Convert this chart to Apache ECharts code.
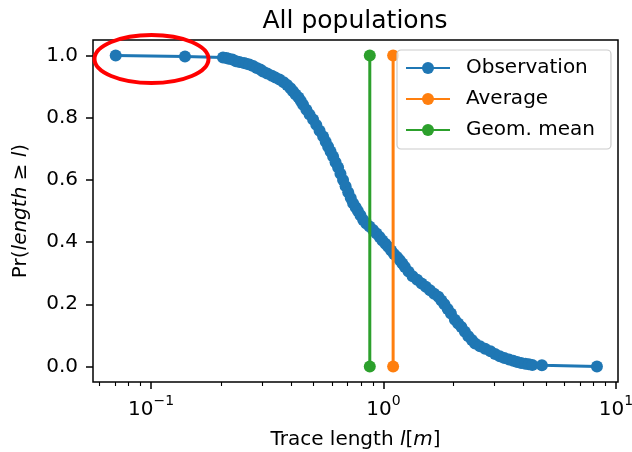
<!DOCTYPE html>
<html><head><meta charset="utf-8">
<script src="https://cdn.jsdelivr.net/npm/echarts@6/dist/echarts.min.js"></script>
<style>html,body{margin:0;padding:0;background:#fff}#c{width:632px;height:452px}</style>
</head><body><div id="c"></div>
<script>
const obsX = [0.0705,0.140,0.204,0.211,0.216,0.224,0.232,0.240,0.251,0.257,0.265,0.275,0.285,0.295,0.303,0.316,0.331,0.343,0.357,0.372,0.385,0.398,0.408,0.419,0.431,0.441,0.451,0.466,0.481,0.498,0.514,0.531,0.550,0.564,0.578,0.592,0.607,0.622,0.638,0.653,0.670,0.687,0.705,0.723,0.740,0.759,0.776,0.796,0.818,0.843,0.871,0.902,0.933,0.962,0.989,1.019,1.047,1.079,1.109,1.143,1.175,1.205,1.236,1.282,1.334,1.396,1.459,1.521,1.585,1.652,1.722,1.774,1.828,1.888,1.950,2.028,2.094,2.163,2.239,2.317,2.399,2.477,2.600,2.735,2.884,3.020,3.162,3.311,3.467,3.614,3.758,3.908,4.074,4.217,4.365,4.80,8.28];
const obsY = [1.000,0.997,0.994,0.992,0.990,0.987,0.982,0.979,0.976,0.974,0.971,0.966,0.960,0.955,0.949,0.942,0.935,0.929,0.923,0.914,0.905,0.895,0.885,0.875,0.865,0.854,0.842,0.826,0.810,0.794,0.777,0.758,0.740,0.723,0.707,0.691,0.675,0.657,0.640,0.620,0.600,0.580,0.560,0.542,0.525,0.512,0.500,0.486,0.471,0.460,0.450,0.439,0.428,0.416,0.405,0.395,0.385,0.373,0.362,0.352,0.342,0.331,0.320,0.305,0.290,0.279,0.267,0.256,0.245,0.234,0.224,0.212,0.200,0.185,0.170,0.150,0.138,0.127,0.112,0.097,0.085,0.074,0.065,0.057,0.049,0.040,0.033,0.027,0.022,0.018,0.014,0.011,0.009,0.007,0.005,0.004,0.000];
const avgX = [1.10, 1.10];
const avgY = [0, 1];
const geoX = [0.873, 0.873];
const geoY = [0, 1];
const seriesNames = ['Observation', 'Average', 'Geom. mean'];
const yTicks = [0, 0.2, 0.4, 0.6, 0.8, 1.0];
const xTicks = [0.1, 1, 10];
const xTickExps = ['−1', '0', '1'];
const xMinorTicks = [0.06,0.07,0.08,0.09,0.2,0.3,0.4,0.5,0.6,0.7,0.8,0.9,2,3,4,5,6,7,8,9];

const FONT = 'DejaVu Sans';
const pairs = (xs, ys) => xs.map((x, i) => [x, ys[i]]);
const chart = echarts.init(document.getElementById('c'), null, {renderer: 'canvas'});
const XMIN = 0.0563, XMAX = 10.2;
chart.setOption({
  animation: false,
  backgroundColor: '#fff',
  title: {
    text: 'All populations', left: 350, top: 4, textAlign: 'center',
    textStyle: {fontFamily: FONT, fontSize: 25, fontWeight: 'normal', color: '#000'}
  },
  grid: {left: 93, right: 14, top: 40, bottom: 70, containLabel: false, outerBoundsMode: 'none',
         show: true, borderColor: '#000', borderWidth: 1.5, backgroundColor: 'transparent'},
  legend: {
    data: seriesNames, orient: 'vertical', left: 397, top: 50,
    padding: [8, 16, 9, 8], itemGap: 11, itemWidth: 44, itemHeight: 15,
    backgroundColor: 'rgba(255,255,255,0.8)', borderColor: '#cccccc', borderWidth: 1.2, borderRadius: 4,
    textStyle: {fontFamily: FONT, fontSize: 20, color: '#000', padding: [0, 0, 0, 11]}
  },
  xAxis: [{
    type: 'log', logBase: 10, min: XMIN, max: XMAX, position: 'bottom',
    name: 'Trace length {i|l}[{i|m}]', nameLocation: 'middle', nameGap: 48,
    nameTextStyle: {fontFamily: FONT, fontSize: 20, color: '#000', rich: {i: {fontFamily: FONT, fontSize: 20, fontStyle: 'italic', color: '#000'}}},
    axisLine: {show: false, onZero: false},
    splitLine: {show: false},
    minorTick: {show: false},
    axisTick: {show: true, length: 7, lineStyle: {color: '#000', width: 1.5}, customValues: xTicks},
    axisLabel: {
      customValues: xTicks, margin: 12, color: '#000',
      formatter: v => { const i = xTicks.findIndex(t => Math.abs(t - v) / t < 1e-6); return i < 0 ? '' : '{b|10}{s|' + xTickExps[i] + '}'; },
      rich: {b: {fontFamily: FONT, fontSize: 20, color: '#000', lineHeight: 26, verticalAlign: 'bottom'}, s: {fontFamily: FONT, fontSize: 14, color: '#000', verticalAlign: 'top', lineHeight: 26}}
    }
  }, {
    type: 'log', logBase: 10, min: XMIN, max: XMAX, gridIndex: 0, position: 'bottom', offset: 0,
    axisLine: {show: false, onZero: false}, splitLine: {show: false}, axisLabel: {show: false},
    axisTick: {show: true, length: 4, lineStyle: {color: '#000', width: 1.1}, customValues: xMinorTicks}
  }],
  yAxis: {
    type: 'value', min: -0.05, max: 1.05,
    name: 'Pr({i|length} ≥ {i|l})', nameLocation: 'middle', nameGap: 62, nameRotate: 90,
    nameTextStyle: {fontFamily: FONT, fontSize: 20, color: '#000', rich: {i: {fontFamily: FONT, fontSize: 20, fontStyle: 'italic', color: '#000'}}},
    axisLine: {show: false, onZero: false}, splitLine: {show: false},
    axisTick: {show: true, length: 7, lineStyle: {color: '#000', width: 1.5}, customValues: yTicks},
    axisLabel: {customValues: yTicks, margin: 15, color: '#000', fontFamily: FONT, fontSize: 20, formatter: v => v.toFixed(1)}
  },
  series: [
    {name: seriesNames[0], type: 'line', data: pairs(obsX, obsY), symbol: 'circle', symbolSize: 12, showSymbol: true,
     lineStyle: {color: '#1f77b4', width: 3}, itemStyle: {color: '#1f77b4'}, z: 2},
    {name: seriesNames[1], type: 'line', data: pairs(avgX, avgY), symbol: 'circle', symbolSize: 12,
     lineStyle: {color: '#ff7f0e', width: 3}, itemStyle: {color: '#ff7f0e'}, z: 3},
    {name: seriesNames[2], type: 'line', data: pairs(geoX, geoY), symbol: 'circle', symbolSize: 12,
     lineStyle: {color: '#2ca02c', width: 3}, itemStyle: {color: '#2ca02c'}, z: 4}
  ],
  graphic: [{
    type: 'ellipse', shape: {cx: 151.5, cy: 59, rx: 57, ry: 24},
    style: {fill: 'none', stroke: '#ff0000', lineWidth: 4}, z: 100
  }]
});
</script></body></html>
